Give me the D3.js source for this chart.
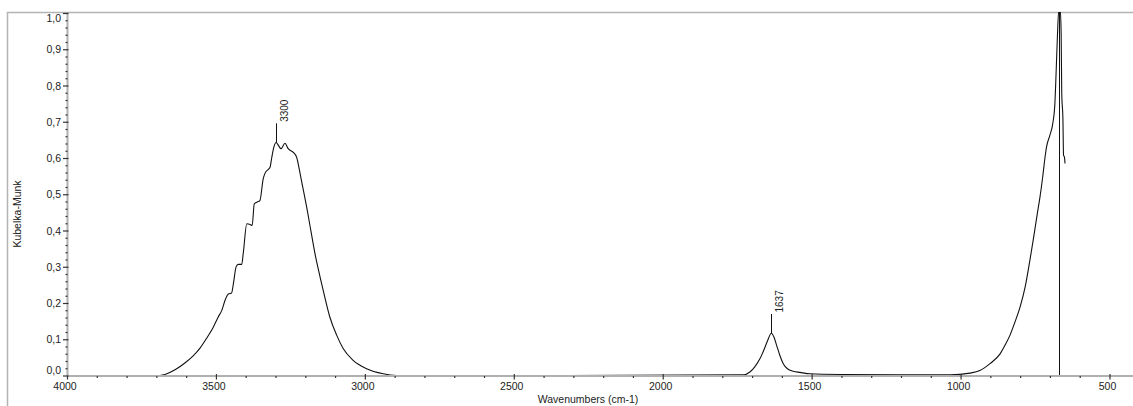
<!DOCTYPE html>
<html>
<head>
<meta charset="utf-8">
<script src="https://cdn.jsdelivr.net/npm/d3@7"></script>
<style>
  html, body { margin: 0; padding: 0; background: #fff; }
  svg { display: block; font-family: "Liberation Sans", Arial, sans-serif; }
</style>
</head>
<body>
<svg id="chart" width="1133" height="406"></svg>
<script>
// Kubelka-Munk spectrum, wavenumber (cm-1) vs. K-M units
const wavenumbers = [
  4000, 3706, 3673, 3639, 3606, 3579, 3555, 3533, 3511, 3494, 3482, 3471, 3460, 3449, 3443,
  3434, 3427, 3415, 3410, 3398, 3387, 3380, 3373, 3363, 3354, 3343, 3337, 3326, 3320, 3314,
  3307, 3300, 3283, 3270, 3259, 3242, 3231, 3219, 3208, 3197, 3183, 3169, 3152, 3136, 3119,
  3096, 3074, 3041, 2996, 2940, 2895, 2850,
  1731, 1709, 1692, 1675, 1658, 1647, 1637, 1628, 1619, 1608, 1597, 1583, 1563, 1541, 1507,
  1400, 1200, 1037, 970, 937, 903, 869, 853, 836, 819, 802, 785, 769, 758, 744, 735, 726,
  718, 713, 702, 692, 685, 681, 677, 672, 667, 664, 662, 658, 656, 653, 651
];
const kmValues = [
  0.000, 0.000, 0.004, 0.017, 0.036, 0.055, 0.077, 0.104, 0.134, 0.163, 0.181, 0.209, 0.226, 0.229, 0.255,
  0.301, 0.308, 0.308, 0.338, 0.420, 0.418, 0.415, 0.475, 0.480, 0.484, 0.544, 0.559, 0.570, 0.576, 0.604,
  0.632, 0.644, 0.627, 0.642, 0.627, 0.617, 0.604, 0.558, 0.512, 0.466, 0.401, 0.337, 0.273, 0.217, 0.162,
  0.112, 0.075, 0.043, 0.020, 0.006, 0.001, 0.000,
  0.003, 0.011, 0.026, 0.048, 0.080, 0.103, 0.118, 0.107, 0.084, 0.056, 0.034, 0.020, 0.013, 0.010, 0.006,
  0.004, 0.003, 0.003, 0.008, 0.015, 0.034, 0.061, 0.084, 0.112, 0.149, 0.190, 0.245, 0.319, 0.374, 0.448, 0.494, 0.549,
  0.604, 0.632, 0.664, 0.697, 0.752, 0.835, 0.927, 1.010, 1.010, 0.945, 0.780, 0.706, 0.609, 0.604, 0.586
];

// Labelled peaks: position, label text, top of the marker stem
const peakPositions = [3300, 1637];
const peakLabels = ["3300", "1637"];
const peakHeights = [0.644, 0.118];
const peakStemTops = [0.697, 0.171];

// Full-height marker line
const markerPositions = [670];

const xTickValues = [4000, 3500, 3000, 2500, 2000, 1500, 1000, 500];
const xTickLabels = ["4000", "3500", "3000", "2500", "2000", "1500", "1000", "500"];
const yTickValues = [0, 0.1, 0.2, 0.3, 0.4, 0.5, 0.6, 0.7, 0.8, 0.9, 1.0];
const yTickLabels = ["0,0", "0,1", "0,2", "0,3", "0,4", "0,5", "0,6", "0,7", "0,8", "0,9", "1,0"];

const svg = d3.select("#chart");
const plot = { left: 67.5, right: 1133, top: 12, bottom: 376 };

const x = d3.scaleLinear().domain([4000, 500]).range([67.5, 1110]);
const y = d3.scaleLinear().domain([0, 1]).range([376, 13.5]);

// Outer frame
svg.append("path")
  .attr("d", `M7.5,406 V12.5 H1133`)
  .attr("fill", "none").attr("stroke", "#b4b4b4").attr("stroke-width", 1.5);

svg.append("clipPath").attr("id", "plotClip")
  .append("rect")
  .attr("x", plot.left).attr("y", plot.top)
  .attr("width", plot.right - plot.left).attr("height", plot.bottom - plot.top);

const g = svg.append("g").attr("clip-path", "url(#plotClip)");

const spectrum = wavenumbers.map((w, i) => ({ w, v: kmValues[i] }));
const line = d3.line().x(d => x(d.w)).y(d => y(d.v)).curve(d3.curveMonotoneX);

g.append("path")
  .datum(spectrum)
  .attr("d", line)
  .attr("fill", "none").attr("stroke", "#111").attr("stroke-width", 1.1);

// Marker line spanning the full height
g.selectAll("line.marker").data(markerPositions).join("line")
  .attr("class", "marker")
  .attr("x1", d => Math.round(x(d)) + 0.5).attr("x2", d => Math.round(x(d)) + 0.5)
  .attr("y1", plot.bottom).attr("y2", plot.top)
  .attr("stroke", "#111").attr("stroke-width", 1);

// Peak stems and labels
peakPositions.forEach((p, i) => {
  const px = Math.round(x(p)) + 0.5;
  svg.append("line")
    .attr("x1", px).attr("x2", px)
    .attr("y1", y(peakHeights[i])).attr("y2", y(peakStemTops[i]))
    .attr("stroke", "#111").attr("stroke-width", 1);
  svg.append("text")
    .attr("transform", `translate(${px + 11.5},${y(peakStemTops[i]) - 1.5}) rotate(-90)`)
    .attr("font-size", "10px").attr("fill", "#222")
    .attr("text-anchor", "start")
    .text(peakLabels[i]);
});

// X axis
svg.append("line")
  .attr("x1", plot.left).attr("x2", plot.right)
  .attr("y1", plot.bottom).attr("y2", plot.bottom)
  .attr("stroke", "#b0b0b0").attr("stroke-width", 2);

const xMinor = d3.range(4000, 400, -100).filter(v => v % 500 !== 0);
svg.selectAll("line.xminor").data(xMinor).join("line")
  .attr("class", "xminor")
  .attr("x1", d => x(d)).attr("x2", d => x(d))
  .attr("y1", plot.bottom).attr("y2", plot.bottom + 2)
  .attr("stroke", "#333").attr("stroke-width", 1.2);

svg.selectAll("line.xmajor").data(xTickValues).join("line")
  .attr("class", "xmajor")
  .attr("x1", d => x(d)).attr("x2", d => x(d))
  .attr("y1", plot.bottom - 2).attr("y2", plot.bottom + 3.5)
  .attr("stroke", "#333").attr("stroke-width", 1.2);

svg.selectAll("text.xlabel").data(xTickValues).join("text")
  .attr("class", "xlabel")
  .attr("x", d => x(d) - 2.5).attr("y", 389.5)
  .attr("text-anchor", "middle").attr("font-size", "10.5px").attr("fill", "#222")
  .text((d, i) => xTickLabels[i]);

svg.append("text")
  .attr("x", 588).attr("y", 403)
  .attr("text-anchor", "middle").attr("font-size", "10.5px").attr("fill", "#222")
  .text("Wavenumbers (cm-1)");

// Y axis
svg.append("line")
  .attr("x1", plot.left).attr("x2", plot.left)
  .attr("y1", plot.top).attr("y2", plot.bottom)
  .attr("stroke", "#b0b0b0").attr("stroke-width", 2);

const yMinor = d3.range(0, 1.001, 0.02).filter(v => Math.abs(v * 10 - Math.round(v * 10)) > 1e-6);
svg.selectAll("line.yminor").data(yMinor).join("line")
  .attr("class", "yminor")
  .attr("x1", plot.left - 2).attr("x2", plot.left)
  .attr("y1", d => y(d)).attr("y2", d => y(d))
  .attr("stroke", "#333").attr("stroke-width", 1.2);

svg.selectAll("line.ymajor").data(yTickValues).join("line")
  .attr("class", "ymajor")
  .attr("x1", plot.left - 4.5).attr("x2", plot.left + 1)
  .attr("y1", d => y(d)).attr("y2", d => y(d))
  .attr("stroke", "#333").attr("stroke-width", 1.2);

svg.selectAll("text.ylabel").data(yTickValues).join("text")
  .attr("class", "ylabel")
  .attr("x", 61).attr("y", d => Math.min(Math.max(y(d), 18), 370))
  .attr("dy", "0.35em")
  .attr("text-anchor", "end").attr("font-size", "10.5px").attr("fill", "#222")
  .text((d, i) => yTickLabels[i]);

svg.append("text")
  .attr("transform", "translate(21,214) rotate(-90)")
  .attr("text-anchor", "middle").attr("font-size", "10.5px").attr("fill", "#222")
  .text("Kubelka-Munk");
</script>
</body>
</html>
